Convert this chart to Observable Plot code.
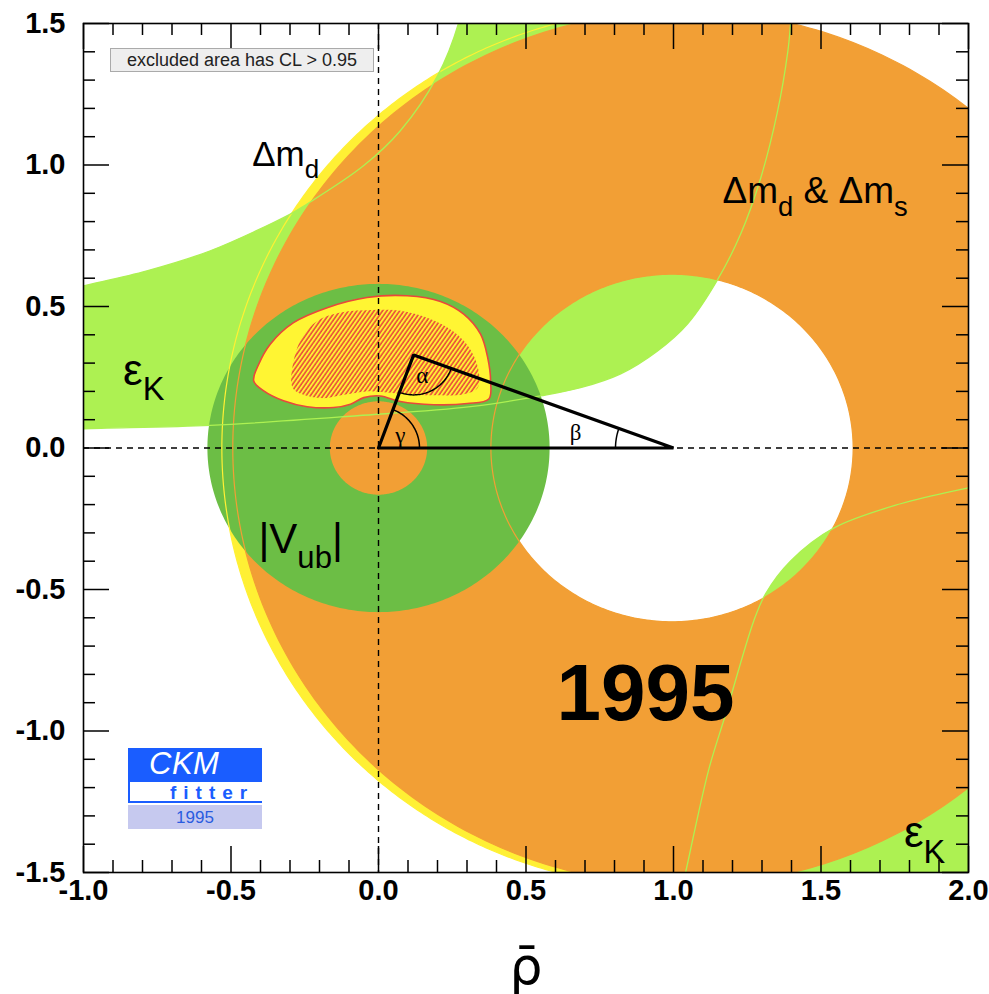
<!DOCTYPE html>
<html>
<head>
<meta charset="utf-8">
<script src="https://cdn.jsdelivr.net/npm/d3@7"></script>
<script src="https://cdn.jsdelivr.net/npm/@observablehq/plot@0.6"></script>
<style>
  body { margin: 0; background: #fff; }
  #wrap { position: relative; width: 989px; height: 994px; }
  .clbox { position: absolute; left: 110px; top: 48px; width: 264px; height: 24px; box-sizing: border-box;
    background: #eeeeee; border: 1px solid #aaaaaa; font: 18px "Liberation Sans", Arial, sans-serif; color: #222;
    text-align: center; line-height: 22px; white-space: nowrap; }
  .logo { position: absolute; left: 128px; top: 748px; width: 134px; }
  .logo .ckm { height: 34px; background: #1a5dff; color: #fff; font: italic 31px "Liberation Sans", Arial, sans-serif;
    line-height: 32px; padding-left: 21px; box-sizing: border-box; letter-spacing: 0.5px; }
  .logo .fitter { height: 21px; background: #fff; border-left: 2px solid #1a5dff; border-bottom: 2px solid #1a5dff;
    color: #1a5dff; font: bold 19px "Liberation Sans", Arial, sans-serif; letter-spacing: 7px; padding-left: 40px;
    line-height: 21px; box-sizing: border-box; }
  .logo .yr { margin-top: 2px; height: 24px; background: #c6c9ef; color: #2a5ce0; font: 17px "Liberation Sans", Arial, sans-serif;
    text-align: center; line-height: 25px; }
</style>
</head>
<body>
<div id="wrap"></div>
<script>
// ---------------- data ----------------
const xDomain = [-1, 2];
const yDomain = [-1.5, 1.5];
const xMajorTicks = [-1, -0.5, 0, 0.5, 1, 1.5, 2];
const yMajorTicks = [-1.5, -1, -0.5, 0, 0.5, 1, 1.5];
const xMinorTicks = d3.range(-10, 21).map(i => i / 10).filter(v => Math.abs(v * 2 - Math.round(v * 2)) > 1e-9);
const yMinorTicks = d3.range(-15, 16).map(i => i / 10).filter(v => Math.abs(v * 2 - Math.round(v * 2)) > 1e-9);

// Δm_d constraint (yellow): ellipse [cx, cy, rx, ry]
const dmdOuter = [1.0, 0.0, 1.531, 1.553];
// Δm_d & Δm_s constraint (orange): outer ellipse and inner hole circle
const dmsOuter = [1.036, 0.0, 1.53, 1.545];
const dmsHole = [0.995, 0.0, 0.614];
// |Vub| constraint (dark green ring around origin): [cx, cy, rInner, rOuter]
const vubRing = [0.0, 0.0, 0.165, 0.58];

// eps_K band, positive branch: lower edge and upper edge (rho, eta)
const epsKLowerEdge = [[-1.10,0.062],[-1.0,0.068],[-0.57,0.080],[-0.072,0.114],[0.312,0.146],[0.549,0.184],
  [0.685,0.213],[0.821,0.262],[0.946,0.343],[1.048,0.439],[1.149,0.594],[1.228,0.757],[1.296,0.955],
  [1.353,1.191],[1.387,1.397],[1.397,1.5],[1.405,1.6]];
const epsKUpperEdge = [[-1.10,0.548],[-1.0,0.573],[-0.785,0.626],[-0.57,0.697],[-0.299,0.827],[-0.241,0.863],
  [-0.051,0.997],[0.074,1.121],[0.200,1.315],[0.271,1.5],[0.29,1.6]];
// eps_K band, negative branch (bottom right): its upper edge; the band reaches past the lower-right corner
const epsKBranch2Upper = [[1.02,-1.6],[1.041,-1.5],[1.119,-1.138],[1.177,-0.94],[1.272,-0.611],[1.312,-0.515],
  [1.397,-0.399],[1.543,-0.283],[1.77,-0.197],[1.998,-0.141],[2.1,-0.12]];
const epsKBranch2Far = [[2.1,-1.7],[1.0,-1.7]];

// global fit: 95% CL region (yellow, red outline) and 68% region (hatched)
const fit95 = [[-0.423,0.237],[-0.406,0.296],[-0.367,0.367],[-0.288,0.443],[-0.174,0.496],[-0.039,0.532],
  [0.097,0.538],[0.210,0.518],[0.289,0.473],[0.346,0.402],[0.370,0.320],[0.380,0.237],[0.374,0.173],
  [0.301,0.157],[0.187,0.153],[0.074,0.164],[0.006,0.184],[-0.050,0.178],[-0.095,0.155],[-0.152,0.143],
  [-0.242,0.146],[-0.322,0.167],[-0.389,0.202]];
const fit68 = [[-0.296,0.237],[-0.282,0.332],[-0.259,0.390],[-0.208,0.449],[-0.129,0.479],[-0.016,0.488],
  [0.097,0.481],[0.210,0.440],[0.289,0.379],[0.334,0.296],[0.337,0.214],[0.289,0.190],[0.187,0.186],
  [0.074,0.192],[-0.039,0.200],[-0.118,0.188],[-0.186,0.176],[-0.254,0.188],[-0.288,0.208]];

// unitarity triangle
const triBase = [[0, 0], [1, 0]];
const triApex = [0.119, 0.329];

// annotations (data coordinates)
const angleLabels = [{t: "α", x: 0.148, y: 0.255}, {t: "β", x: 0.668, y: 0.054}, {t: "γ", x: 0.074, y: 0.043}];
const labelDmd = [{t: "Δm_{d}", x: -0.428, y: 0.997}];
const labelDmds = [{t: "Δm_{d} & Δm_{s}", x: 1.166, y: 0.866}];
const labelEpsK = [{t: "ε_{K}", x: -0.866, y: 0.224}, {t: "ε_{K}", x: 1.781, y: -1.409}];
const labelVub = [{t: "|V_{ub}|", x: -0.407, y: -0.370}];
const labelYear = [{t: "1995", x: 0.905, y: -0.961}];
const axisLabel = ["ρ\u0304"];

// ---------------- geometry helpers ----------------
const W = 989, H = 994, mL = 83, mR = 21, mT = 23, mB = 122;
const fw = W - mL - mR, fh = H - mT - mB;
const kx = fw / (xDomain[1] - xDomain[0]), ky = fh / (yDomain[1] - yDomain[0]);
const pts = a => a.map(([x, y]) => ({x, y}));
function ellipseArc(cx, cy, rx, ry, t0, t1, n = 360) {
  return d3.range(n + 1).map(i => { const t = t0 + (t1 - t0) * i / n; return {x: cx + rx * Math.cos(t), y: cy + ry * Math.sin(t)}; });
}
const ellipse = (cx, cy, rx, ry, dir) => ellipseArc(cx, cy, rx, ry, 0, dir * 2 * Math.PI);
const gap = {x: NaN, y: NaN};
const ringDmd = [...ellipse(...dmdOuter, 1), gap, ...ellipse(dmsHole[0], dmsHole[1], dmsHole[2], dmsHole[2], -1)];
const ringDms = [...ellipse(...dmsOuter, 1), gap, ...ellipse(dmsHole[0], dmsHole[1], dmsHole[2], dmsHole[2], -1)];
const ringVub = [...ellipse(vubRing[0], vubRing[1], vubRing[3], vubRing[3], 1), gap,
                 ...ellipse(vubRing[0], vubRing[1], vubRing[2], vubRing[2], -1)];
const epsKPoly1 = [...pts(epsKLowerEdge), ...pts(epsKUpperEdge.slice().reverse())];
const epsKPoly2 = [...pts(epsKBranch2Upper), ...pts(epsKBranch2Far)];
const triangle = pts([triBase[0], triBase[1], triApex, triBase[0]]);
function arc(c, rPx, a0, a1, n = 40) {
  return d3.range(n + 1).map(i => { const a = a0 + (a1 - a0) * i / n; return {x: c[0] + rPx * Math.cos(a) / kx, y: c[1] + rPx * Math.sin(a) / ky}; });
}
const ang = (from, to) => Math.atan2((to[1] - from[1]) * ky, (to[0] - from[0]) * kx);
const arcGamma = arc(triBase[0], 41, 0, ang(triBase[0], triApex));
const arcAlpha = arc(triApex, 40, ang(triApex, triBase[0]), ang(triApex, triBase[1]));
const arcBeta = arc(triBase[1], 58, ang(triBase[1], triApex), Math.PI);

const C = {eps: "#adf152", yellow: "#fff034", orange: "#f29f35", vub: "#6cbe45", fit: "#fff533", red: "#e9483b"};
const fontSans = "Helvetica, 'Liberation Sans', Arial, sans-serif";

const chart = Plot.plot({
  width: W, height: H, marginLeft: mL, marginRight: mR, marginTop: mT, marginBottom: mB,
  x: {domain: xDomain}, y: {domain: yDomain},
  style: {fontFamily: fontSans, background: "#fff", color: "#000"},
  marks: [
    // filled constraints
    Plot.line(ringDmd, {x: "x", y: "y", fill: C.yellow, stroke: "none", clip: true}),
    Plot.line(epsKPoly1, {x: "x", y: "y", fill: C.eps, stroke: "none", curve: "catmull-rom", clip: true}),
    Plot.line(epsKPoly2, {x: "x", y: "y", fill: C.eps, stroke: "none", curve: "catmull-rom", clip: true}),
    Plot.line(ringDms, {x: "x", y: "y", fill: C.orange, stroke: "none", clip: true}),
    Plot.line(ringVub, {x: "x", y: "y", fill: C.vub, stroke: "none", clip: true}),
    // contour outlines
    Plot.line(ellipseArc(...dmdOuter, Math.PI / 2, 3 * Math.PI / 2), {x: "x", y: "y", stroke: C.yellow, strokeWidth: 1.2, clip: true}),
    Plot.line(ellipse(...dmsOuter, 1), {x: "x", y: "y", stroke: C.orange, strokeWidth: 1.2, clip: true}),
    Plot.line(ellipse(dmsHole[0], dmsHole[1], dmsHole[2], dmsHole[2], 1), {x: "x", y: "y", stroke: C.orange, strokeWidth: 1.2, clip: true}),
    Plot.line(pts(epsKLowerEdge), {x: "x", y: "y", stroke: C.eps, strokeWidth: 1.3, curve: "catmull-rom", clip: true}),
    Plot.line(pts(epsKUpperEdge), {x: "x", y: "y", stroke: C.eps, strokeWidth: 1.3, curve: "catmull-rom", clip: true}),
    Plot.line(pts(epsKBranch2Upper), {x: "x", y: "y", stroke: C.eps, strokeWidth: 1.3, curve: "catmull-rom", clip: true}),
    // global fit
    Plot.line(pts(fit95), {x: "x", y: "y", fill: C.fit, stroke: C.red, strokeWidth: 1.6, curve: "catmull-rom-closed"}),
    Plot.line(pts(fit68), {x: "x", y: "y", fill: "url(#hatch)", stroke: "none", curve: "catmull-rom-closed"}),
    // dashed axes
    Plot.ruleX([0], {stroke: "#000", strokeWidth: 1.4, strokeDasharray: "6,5"}),
    Plot.ruleY([0], {stroke: "#000", strokeWidth: 1.4, strokeDasharray: "6,5"}),
    // triangle
    Plot.line(triangle, {x: "x", y: "y", stroke: "#000", strokeWidth: 3.2, strokeLinejoin: "miter"}),
    Plot.line(arcGamma, {x: "x", y: "y", stroke: "#000", strokeWidth: 1.5}),
    Plot.line(arcAlpha, {x: "x", y: "y", stroke: "#000", strokeWidth: 1.5}),
    Plot.line(arcBeta, {x: "x", y: "y", stroke: "#000", strokeWidth: 1.5}),
    Plot.text(angleLabels, {x: "x", y: "y", text: "t", fontSize: 23, fontFamily: "'Liberation Serif', 'DejaVu Serif', serif"}),
    // labels
    Plot.text(labelDmd, {x: "x", y: "y", text: "t", fontSize: 35, textAnchor: "start", lineAnchor: "bottom"}),
    Plot.text(labelDmds, {x: "x", y: "y", text: "t", fontSize: 37, textAnchor: "start", lineAnchor: "bottom"}),
    Plot.text(labelEpsK, {x: "x", y: "y", text: "t", fontSize: 44, textAnchor: "start", lineAnchor: "bottom"}),
    Plot.text(labelVub, {x: "x", y: "y", text: "t", fontSize: 42, textAnchor: "start", lineAnchor: "bottom"}),
    Plot.text(labelYear, {x: "x", y: "y", text: "t", fontSize: 80, fontWeight: "bold", lineAnchor: "bottom"}),
    // frame and ticks
    Plot.frame({stroke: "#000", strokeWidth: 1.6}),
    Plot.ruleX(xMajorTicks, {insetTop: fh - 26, stroke: "#000", strokeWidth: 1.5}),
    Plot.ruleX(xMajorTicks, {insetBottom: fh - 26, stroke: "#000", strokeWidth: 1.5}),
    Plot.ruleX(xMinorTicks, {insetTop: fh - 12, stroke: "#000", strokeWidth: 1.5}),
    Plot.ruleX(xMinorTicks, {insetBottom: fh - 12, stroke: "#000", strokeWidth: 1.5}),
    Plot.ruleY(yMajorTicks, {insetRight: fw - 26, stroke: "#000", strokeWidth: 1.5}),
    Plot.ruleY(yMajorTicks, {insetLeft: fw - 26, stroke: "#000", strokeWidth: 1.5}),
    Plot.ruleY(yMinorTicks, {insetRight: fw - 12, stroke: "#000", strokeWidth: 1.5}),
    Plot.ruleY(yMinorTicks, {insetLeft: fw - 12, stroke: "#000", strokeWidth: 1.5}),
    Plot.axisX({ticks: xMajorTicks, tickSize: 0, tickPadding: 7, tickFormat: d => d.toFixed(1), fontSize: 29, fontWeight: "bold", label: null}),
    Plot.axisY({ticks: yMajorTicks, tickSize: 0, tickPadding: 18, tickFormat: d => d.toFixed(1), fontSize: 29, fontWeight: "bold", label: null}),
    Plot.text(axisLabel, {frameAnchor: "bottom", lineAnchor: "bottom", dy: 111, fontSize: 52, fontFamily: "'DejaVu Sans', sans-serif"})
  ]
});

// hatch pattern definition
const ns = "http://www.w3.org/2000/svg";
const defs = document.createElementNS(ns, "defs");
defs.innerHTML = `<pattern id="hatch" patternUnits="userSpaceOnUse" width="3.5" height="3.5" patternTransform="rotate(35)">
  <line x1="1" y1="-1" x2="1" y2="5" stroke="${C.red}" stroke-width="1.6"/></pattern>`;
chart.insertBefore(defs, chart.firstChild);

// subscripts: "_{...}" -> tspan
chart.querySelectorAll("text").forEach(t => {
  const s = t.textContent;
  if (!s.includes("_{")) return;
  const holder = t.closest("[font-size]");
  const fs = holder ? parseFloat(holder.getAttribute("font-size")) : 30;
  const parts = s.split(/_\{([^}]*)\}/);
  while (t.firstChild) t.removeChild(t.firstChild);
  let shifted = false;
  parts.forEach((p, i) => {
    if (!p) return;
    const ts = document.createElementNS(ns, "tspan");
    ts.textContent = p;
    if (i % 2 === 1) {
      ts.setAttribute("font-size", fs * 0.74);
      ts.setAttribute("dy", fs * 0.36);
      shifted = true;
    } else if (shifted) {
      ts.setAttribute("dy", -fs * 0.36);
      shifted = false;
    }
    t.appendChild(ts);
  });
});

const wrap = document.getElementById("wrap");
wrap.appendChild(chart);
wrap.insertAdjacentHTML("beforeend", `
  <div class="clbox">excluded area has CL &gt; 0.95</div>
  <div class="logo"><div class="ckm">CKM</div><div class="fitter">fitter</div><div class="yr">1995</div></div>`);
</script>
</body>
</html>
